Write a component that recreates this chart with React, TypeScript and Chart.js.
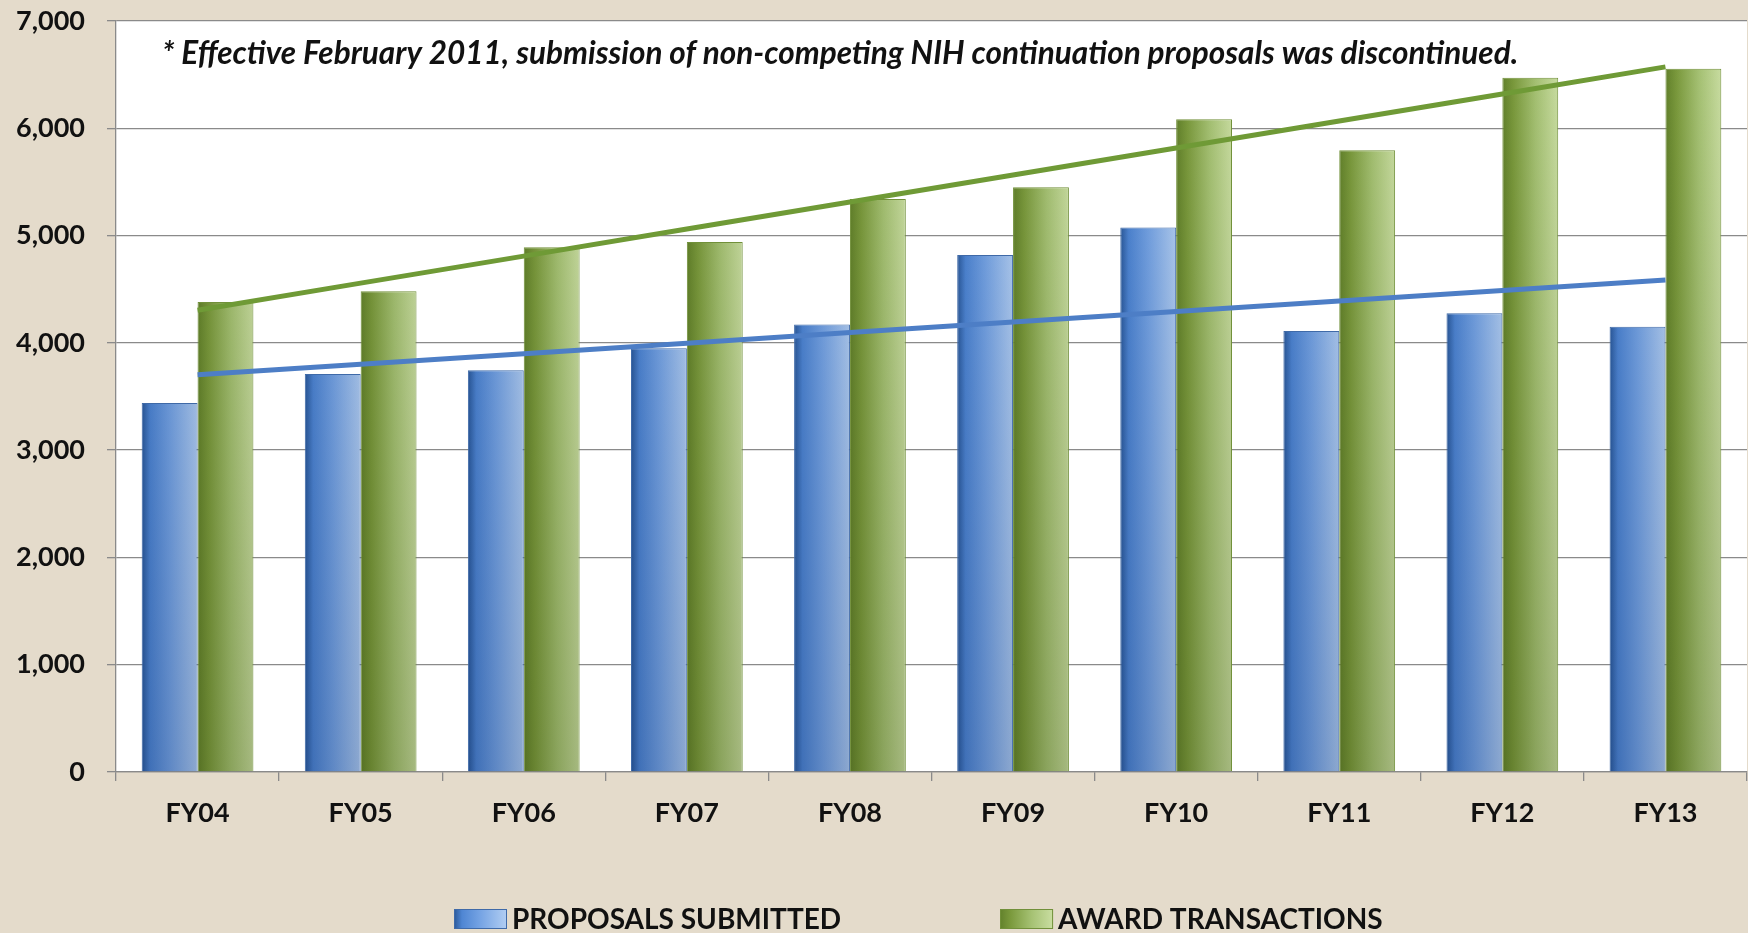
import React, { useEffect, useRef } from "react";
import { Chart, registerables } from "chart.js";

Chart.register(...registerables);

const categories = ["FY04", "FY05", "FY06", "FY07", "FY08", "FY09", "FY10", "FY11", "FY12", "FY13"];
const proposalsSubmitted = [3440, 3710, 3745, 3950, 4170, 4820, 5075, 4110, 4275, 4150];
const awardTransactions = [4380, 4480, 4890, 4940, 5340, 5450, 6085, 5795, 6470, 6555];
const seriesNames = ["PROPOSALS SUBMITTED", "AWARD TRANSACTIONS"];
const yMax = 7000;
const yStep = 1000;
const noteText = "* Effective February 2011, submission of non-competing NIH continuation proposals was discontinued.";

const W = 1748;
const H = 933;
const CAT_PCT = 0.685;
const FONT = "Lato, 'Open Sans', sans-serif";

function linearTrend(values: number[]): number[] {
  const n = values.length;
  const mx = (n - 1) / 2;
  const my = values.reduce((a, b) => a + b, 0) / n;
  let sxy = 0, sxx = 0;
  values.forEach((v, i) => { sxy += (i - mx) * (v - my); sxx += (i - mx) * (i - mx); });
  const slope = sxy / sxx;
  return values.map((_, i) => my + slope * (i - mx));
}

const blueStops: [number, string][] = [[0, "#2a5898"], [0.15, "#4f86d3"], [0.5, "#76a4e4"], [1, "#b2cef2"]];
const greenStops: [number, string][] = [[0, "#62812b"], [0.2, "#7b9a3d"], [0.6, "#a6c274"], [1, "#cadea2"]];
const seriesStops = [blueStops, greenStops];
const seriesBorders = ["#3f6aa8", "#71903a"];

function barGradient(stops: [number, string][], fallback: string) {
  return (context: any) => {
    const chart = context.chart;
    if (!chart.chartArea || context.type !== "data") return fallback;
    const xScale = chart.scales.x;
    const center = xScale.getPixelForValue(context.dataIndex);
    const catW = xScale.width / categories.length;
    const barW = (catW * CAT_PCT) / 2;
    const left = context.datasetIndex === 0 ? center - barW : center;
    const g = chart.ctx.createLinearGradient(left, 0, left + barW, 0);
    stops.forEach(([p, c]) => g.addColorStop(p, c));
    return g;
  };
}

const backgroundPlugin = {
  id: "bgPlugin",
  beforeDraw(chart: any) {
    const { ctx, chartArea } = chart;
    ctx.save();
    ctx.fillStyle = "#e4dbcb";
    ctx.fillRect(0, 0, chart.width, chart.height);
    ctx.fillStyle = "#ffffff";
    ctx.fillRect(chartArea.left, chartArea.top, chartArea.right - chartArea.left, chartArea.bottom - chartArea.top);
    ctx.restore();
  },
};

const shadePlugin = {
  id: "shadePlugin",
  afterDatasetDraw(chart: any, args: any) {
    const meta = args.meta;
    if (meta.type !== "bar") return;
    const { ctx, chartArea } = chart;
    const dark = args.index === 0 ? "10,35,85" : "40,55,10";
    ctx.save();
    const g = ctx.createLinearGradient(0, chartArea.top, 0, chartArea.bottom);
    g.addColorStop(0, `rgba(${dark},0)`);
    g.addColorStop(1, `rgba(${dark},0.22)`);
    ctx.fillStyle = g;
    meta.data.forEach((bar: any) => {
      const { x, y, base, width } = bar.getProps(["x", "y", "base", "width"], true);
      ctx.fillRect(x - width / 2 + 1, y + 1, width - 2, base - y - 1);
    });
    ctx.restore();
  },
};

const notePlugin = {
  id: "notePlugin",
  afterDraw(chart: any) {
    const { ctx, chartArea } = chart;
    ctx.save();
    ctx.font = `italic bold 31.5px ${FONT}`;
    ctx.fillStyle = "#111111";
    ctx.textBaseline = "middle";
    ctx.textAlign = "left";
    ctx.fillText(noteText, chartArea.left + 46, chartArea.top + 33);
    ctx.restore();
  },
};

const legendPlugin = {
  id: "customLegend",
  afterDraw(chart: any) {
    const { ctx, chartArea } = chart;
    const cy = chartArea.bottom + 147;
    const boxW = 53, boxH = 20, gap = 5, spacing = 159;
    let x = chartArea.left + 338;
    ctx.save();
    ctx.font = `bold 28px ${FONT}`;
    ctx.textBaseline = "middle";
    ctx.textAlign = "left";
    seriesNames.forEach((name, i) => {
      const g = ctx.createLinearGradient(x, 0, x + boxW, 0);
      seriesStops[i].forEach(([p, c]) => g.addColorStop(p, c));
      ctx.fillStyle = g;
      ctx.fillRect(x, cy - boxH / 2, boxW, boxH);
      ctx.strokeStyle = seriesBorders[i];
      ctx.lineWidth = 1;
      ctx.strokeRect(x + 0.5, cy - boxH / 2 + 0.5, boxW - 1, boxH - 1);
      x += boxW + gap;
      ctx.fillStyle = "#111111";
      ctx.fillText(name, x, cy + 1);
      x += ctx.measureText(name).width + spacing;
    });
    ctx.restore();
  },
};

export default function App() {
  const canvasRef = useRef<HTMLCanvasElement | null>(null);

  useEffect(() => {
    document.body.style.margin = "0";
    const canvas = canvasRef.current;
    if (!canvas) return;
    const chart = new Chart(canvas, {
      type: "bar",
      data: {
        labels: categories,
        datasets: [
          {
            type: "bar",
            label: seriesNames[0],
            data: proposalsSubmitted,
            backgroundColor: barGradient(blueStops, "#7aa6e0"),
            borderColor: seriesBorders[0],
            borderWidth: 1,
            categoryPercentage: CAT_PCT,
            barPercentage: 1,
            order: 1,
          } as any,
          {
            type: "bar",
            label: seriesNames[1],
            data: awardTransactions,
            backgroundColor: barGradient(greenStops, "#9cb866"),
            borderColor: seriesBorders[1],
            borderWidth: 1,
            categoryPercentage: CAT_PCT,
            barPercentage: 1,
            order: 1,
          } as any,
          {
            type: "line",
            label: "trend-proposals",
            data: linearTrend(proposalsSubmitted),
            borderColor: "#4d7ec6",
            borderWidth: 5,
            pointRadius: 0,
            fill: false,
            order: 0,
          } as any,
          {
            type: "line",
            label: "trend-awards",
            data: linearTrend(awardTransactions),
            borderColor: "#6f9a36",
            borderWidth: 5,
            pointRadius: 0,
            fill: false,
            order: 0,
          } as any,
        ],
      },
      options: {
        responsive: false,
        animation: false,
        devicePixelRatio: 1,
        layout: { autoPadding: false, padding: { left: 0, right: 1, top: 21, bottom: 0 } },
        plugins: {
          tooltip: { enabled: false },
          title: { display: false },
          legend: { display: false },
        },
        scales: {
          x: {
            offset: true,
            grid: { drawOnChartArea: false, drawTicks: true, tickLength: 9, color: "#8a8a8a", lineWidth: 1.3 },
            border: { display: true, color: "#8a8a8a", width: 1.3 },
            ticks: { color: "#111111", font: { family: FONT, weight: "bold", size: 27 }, padding: 16 },
            afterFit: (s: any) => { s.height = 161; },
          },
          y: {
            min: 0,
            max: yMax,
            ticks: {
              stepSize: yStep,
              color: "#111111",
              padding: 22,
              font: { family: FONT, weight: "bold", size: 27 },
              callback: (v: any) => Number(v).toLocaleString("en-US"),
            },
            grid: { color: "#8a8a8a", lineWidth: 1.3, tickLength: 9 },
            border: { display: true, color: "#8a8a8a", width: 1.3 },
            afterFit: (s: any) => { s.width = 116; s.paddingTop = 0; s.paddingBottom = 0; },
          },
        },
      },
      plugins: [backgroundPlugin, shadePlugin, notePlugin, legendPlugin],
    });
    return () => chart.destroy();
  }, []);

  return (
    <div style={{ width: W, height: H }}>
      <canvas ref={canvasRef} width={W} height={H} style={{ display: "block" }} />
    </div>
  );
}
